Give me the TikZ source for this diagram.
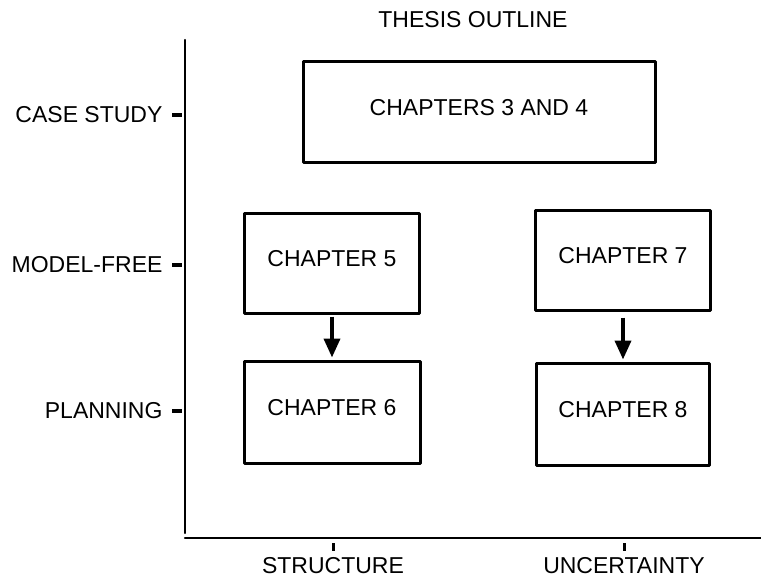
\documentclass[tikz,border=0pt]{standalone}
\usepackage{fontspec}
\setmainfont{Liberation Sans}
\usetikzlibrary{arrows.meta}

\tikzset{
	chapterbox/.style = {draw, line width=3pt, line join=round, minimum height=100pt, text depth=9pt, font=\fontsize{23}{25}\selectfont},
	axisline/.style = {line width=2.2pt, line cap=round},
	ticklabel/.style = {font=\fontsize{23}{25}\selectfont}
}

\begin{document}
\begin{tikzpicture}[x=1pt, y=-1pt]
		\useasboundingbox (0,0) rectangle (761,578);

		\node [ticklabel] (title) at (473,20) {THESIS OUTLINE};

		\draw [axisline] (185,40) -- (185,533);
		\draw [axisline] (185,538) -- (761,538);

		\draw [line width=4pt] (172,115) -- (182,115);
		\draw [line width=4pt] (172,265) -- (182,265);
		\draw [line width=4pt] (172,411) -- (182,411);
		\node [ticklabel, anchor=east] (casestudy) at (166,115) {CASE STUDY};
		\node [ticklabel, anchor=east] (modelfree) at (166,265) {MODEL-FREE};
		\node [ticklabel, anchor=east] (planning) at (166,411) {PLANNING};

		\draw [line width=3pt] (333,543) -- (333,551);
		\draw [line width=3pt] (624,543) -- (624,551);
		\node [ticklabel, anchor=base, inner sep=0pt] (structure) at (333,573) {STRUCTURE};
		\node [ticklabel, anchor=base, inner sep=0pt] (uncertainty) at (624,573) {UNCERTAINTY};

		\node [chapterbox, minimum width=352pt] (ch34) at (479,112) {CHAPTERS 3 AND 4};
		\node [chapterbox, minimum width=175pt] (ch5) at (332,263) {CHAPTER 5};
		\node [chapterbox, minimum width=175pt] (ch7) at (623,260) {CHAPTER 7};
		\node [chapterbox, minimum width=176pt, minimum height=102pt] (ch6) at (332,412) {CHAPTER 6};
		\node [chapterbox, minimum width=173pt, minimum height=102pt] (ch8) at (623,414) {CHAPTER 8};

		\draw [line width=3.8pt, -{Triangle[width=16pt, length=19pt]}, shorten <=2pt, shorten >=2pt] (ch5.south) -- (ch6.north);
		\draw [line width=3.8pt, -{Triangle[width=16pt, length=19pt]}, shorten <=6pt, shorten >=2pt] (ch7.south) -- (ch8.north);
	\end{tikzpicture}
\end{document}
